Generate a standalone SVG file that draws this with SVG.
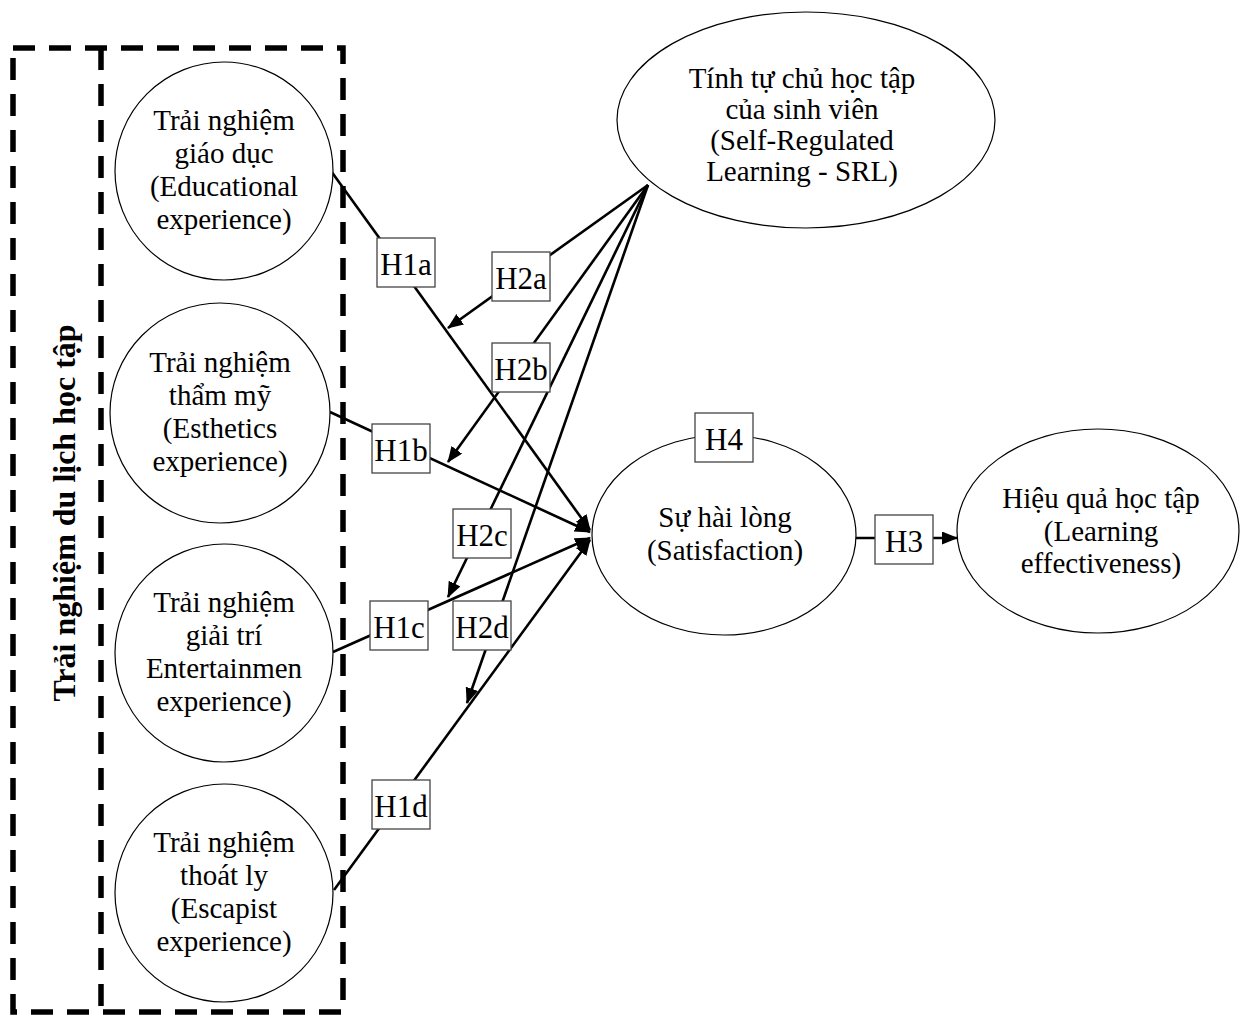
<svg xmlns="http://www.w3.org/2000/svg" width="1244" height="1016" viewBox="0 0 1244 1016">
  <style>
    .node { fill: #ffffff; stroke: #000000; stroke-width: 1.2; }
    .txt { font-family: "Liberation Serif", "Times New Roman", serif; font-size: 29px; fill: #000000; text-anchor: middle; }
    .lbl { font-family: "Liberation Serif", "Times New Roman", serif; font-size: 31px; fill: #000000; text-anchor: middle; }
    .box { fill: #ffffff; stroke: #444444; stroke-width: 1.3; }
    .edge { fill: none; stroke: #000000; stroke-width: 2.6; }
    .dash { fill: none; stroke: #000000; stroke-width: 5.5; stroke-dasharray: 22 14; }
    .group-title { font-family: "Liberation Serif", "Times New Roman", serif; font-size: 32px; font-weight: bold; fill: #000000; text-anchor: middle; }
  </style>
  <defs>
    <marker id="arrow" markerUnits="userSpaceOnUse" markerWidth="17" markerHeight="14" refX="15" refY="6.5" orient="auto">
      <path d="M0,0 L16,6.5 L0,13 Z" fill="#000000"/>
    </marker>
  </defs>

  <rect width="1244" height="1016" fill="#ffffff"/>

  <!-- dashed frame around the learning-tourism experience constructs -->
  <g id="experience-frame">
    <rect class="dash" x="13" y="48" width="330" height="964"/>
    <line class="dash" x1="101" y1="48" x2="101" y2="1012"/>
    <text class="group-title" transform="translate(75,513) rotate(-90)">Trải nghiệm du lịch học tập</text>
  </g>

  <!-- paths between constructs -->
  <g id="connectors">
    <line class="edge" x1="331" y1="171" x2="590" y2="530" marker-end="url(#arrow)"/>
    <line class="edge" x1="330" y1="412" x2="590" y2="532" marker-end="url(#arrow)"/>
    <line class="edge" x1="333" y1="652" x2="590" y2="538" marker-end="url(#arrow)"/>
    <line class="edge" x1="334" y1="890" x2="590" y2="540" marker-end="url(#arrow)"/>
    <line class="edge" x1="648" y1="185" x2="448" y2="328" marker-end="url(#arrow)"/>
    <line class="edge" x1="648" y1="185" x2="448" y2="462" marker-end="url(#arrow)"/>
    <line class="edge" x1="648" y1="185" x2="448" y2="597" marker-end="url(#arrow)"/>
    <line class="edge" x1="648" y1="185" x2="467" y2="703" marker-end="url(#arrow)"/>
    <line class="edge" x1="856" y1="538" x2="957" y2="538" marker-end="url(#arrow)"/>
  </g>

  <!-- hypothesis labels sitting on the paths -->
  <g id="hypotheses">
    <rect class="box" x="377" y="238" width="58" height="49"/><text class="lbl" x="406" y="275">H1a</text>
    <rect class="box" x="492" y="252" width="58" height="49"/><text class="lbl" x="521" y="289">H2a</text>
    <rect class="box" x="492" y="343" width="58" height="49"/><text class="lbl" x="521" y="380">H2b</text>
    <rect class="box" x="372" y="424" width="58" height="49"/><text class="lbl" x="401" y="461">H1b</text>
    <rect class="box" x="453" y="509" width="58" height="49"/><text class="lbl" x="482" y="546">H2c</text>
    <rect class="box" x="370" y="601" width="58" height="49"/><text class="lbl" x="399" y="638">H1c</text>
    <rect class="box" x="453" y="601" width="58" height="49"/><text class="lbl" x="482" y="638">H2d</text>
    <rect class="box" x="372" y="780" width="58" height="49"/><text class="lbl" x="401" y="817">H1d</text>
    <rect class="box" x="875" y="515" width="58" height="49"/><text class="lbl" x="904" y="552">H3</text>
  </g>

  <g id="educational">
    <circle class="node" cx="224" cy="171" r="109"/>
    <text class="txt" x="224" y="130">Trải nghiệm</text>
    <text class="txt" x="224" y="163">giáo dục</text>
    <text class="txt" x="224" y="196">(Educational</text>
    <text class="txt" x="224" y="229">experience)</text>
  </g>

  <g id="esthetics">
    <circle class="node" cx="220" cy="413" r="110"/>
    <text class="txt" x="220" y="372">Trải nghiệm</text>
    <text class="txt" x="220" y="405">thẩm mỹ</text>
    <text class="txt" x="220" y="438">(Esthetics</text>
    <text class="txt" x="220" y="471">experience)</text>
  </g>

  <g id="entertainment">
    <circle class="node" cx="224" cy="653" r="109"/>
    <text class="txt" x="224" y="612">Trải nghiệm</text>
    <text class="txt" x="224" y="645">giải trí</text>
    <text class="txt" x="224" y="678">Entertainmen</text>
    <text class="txt" x="224" y="711">experience)</text>
  </g>

  <g id="escapist">
    <circle class="node" cx="224" cy="893" r="109"/>
    <text class="txt" x="224" y="852">Trải nghiệm</text>
    <text class="txt" x="224" y="885">thoát ly</text>
    <text class="txt" x="224" y="918">(Escapist</text>
    <text class="txt" x="224" y="951">experience)</text>
  </g>

  <g id="srl">
    <ellipse class="node" cx="806" cy="120" rx="189" ry="108"/>
    <text class="txt" x="802" y="88">Tính tự chủ học tập</text>
    <text class="txt" x="802" y="119">của sinh viên</text>
    <text class="txt" x="802" y="150">(Self-Regulated</text>
    <text class="txt" x="802" y="181">Learning - SRL)</text>
  </g>

  <g id="satisfaction">
    <ellipse class="node" cx="724" cy="535" rx="132" ry="100"/>
    <text class="txt" x="725" y="527">Sự hài lòng</text>
    <text class="txt" x="725" y="560">(Satisfaction)</text>
    <rect class="box" x="695" y="413" width="58" height="49"/>
    <text class="lbl" x="724" y="450">H4</text>
  </g>

  <g id="effectiveness">
    <ellipse class="node" cx="1098" cy="531" rx="141" ry="102"/>
    <text class="txt" x="1101" y="508">Hiệu quả học tập</text>
    <text class="txt" x="1101" y="541">(Learning</text>
    <text class="txt" x="1101" y="573">effectiveness)</text>
  </g>
</svg>
